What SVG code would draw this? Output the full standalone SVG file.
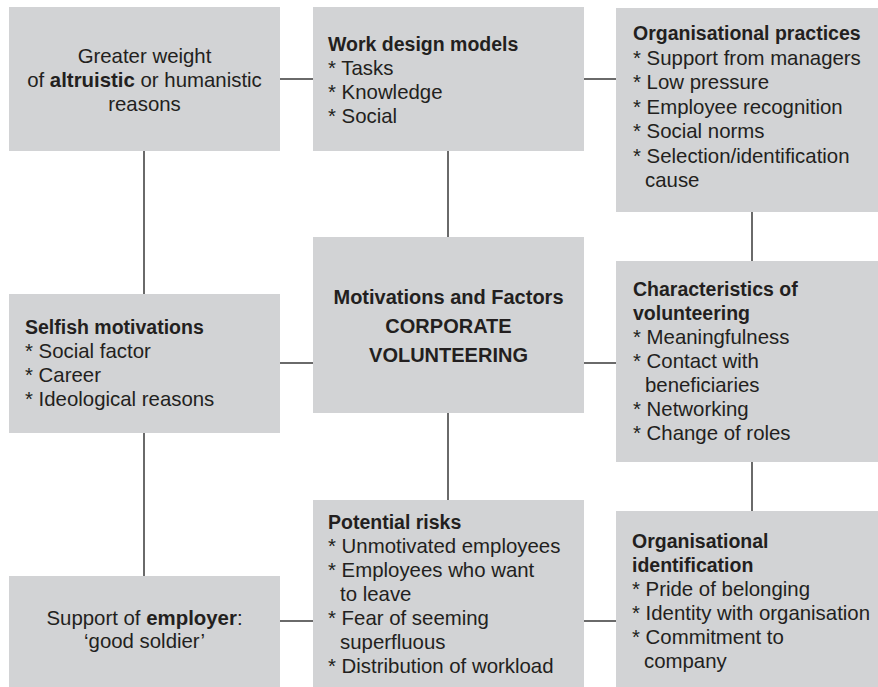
<svg xmlns="http://www.w3.org/2000/svg" width="878" height="687" viewBox="0 0 878 687">
  <style>
    .box { fill: #d2d3d5; }
    text { font-family: "Liberation Sans", Arial, Helvetica, sans-serif; font-size: 20.4px; fill: #231f20; }
    .h { font-weight: bold; font-size: 19.5px; }
    .hc { font-weight: bold; font-size: 20px; text-anchor: middle; }
    .c { text-anchor: middle; }
    .link { stroke: #3a3a3a; stroke-width: 1.5; fill: none; }
  </style>
  <rect width="878" height="687" fill="#ffffff"/>

  <!-- connectors -->
  <g id="connectors">
    <path class="link" d="M280 79H313M584 79H616"/>
    <path class="link" d="M280 363H313M584 363H616"/>
    <path class="link" d="M280 621H313M584 621H616"/>
    <path class="link" d="M144 151V294M144 433V576"/>
    <path class="link" d="M448 151V237M448 413V500"/>
    <path class="link" d="M752 212V261M752 462V511"/>
  </g>

  <g id="altruistic">
    <rect class="box" x="9" y="7" width="271" height="144"/>
    <text class="c" x="144.5" y="63">Greater weight</text>
    <text class="c" x="144.5" y="87">of <tspan font-weight="bold">altruistic</tspan> or humanistic</text>
    <text class="c" x="144.5" y="111">reasons</text>
  </g>

  <g id="work-design">
    <rect class="box" x="313" y="7" width="271" height="144"/>
    <text class="h" x="328" y="51">Work design models</text>
    <text x="328" y="75">* Tasks</text>
    <text x="328" y="99">* Knowledge</text>
    <text x="328" y="123">* Social</text>
  </g>

  <g id="org-practices">
    <rect class="box" x="616" y="8" width="262" height="204"/>
    <text class="h" x="633" y="40">Organisational practices</text>
    <text x="633" y="64.5">* Support from managers</text>
    <text x="633" y="89">* Low pressure</text>
    <text x="633" y="113.5">* Employee recognition</text>
    <text x="633" y="138">* Social norms</text>
    <text x="633" y="162.5">* Selection/identification</text>
    <text x="645" y="187">cause</text>
  </g>

  <g id="selfish">
    <rect class="box" x="9" y="294" width="271" height="139"/>
    <text class="h" x="25" y="334">Selfish motivations</text>
    <text x="25" y="358">* Social factor</text>
    <text x="25" y="382">* Career</text>
    <text x="25" y="406">* Ideological reasons</text>
  </g>

  <g id="core">
    <rect class="box" x="313" y="237" width="271" height="176"/>
    <text class="hc" x="448.5" y="304">Motivations and Factors</text>
    <text class="hc" x="448.5" y="333">CORPORATE</text>
    <text class="hc" x="448.5" y="362">VOLUNTEERING</text>
  </g>

  <g id="characteristics">
    <rect class="box" x="616" y="261" width="262" height="201"/>
    <text class="h" x="633" y="296">Characteristics of</text>
    <text class="h" x="633" y="320">volunteering</text>
    <text x="633" y="344">* Meaningfulness</text>
    <text x="633" y="368">* Contact with</text>
    <text x="645" y="392">beneficiaries</text>
    <text x="633" y="416">* Networking</text>
    <text x="633" y="440">* Change of roles</text>
  </g>

  <g id="good-soldier">
    <rect class="box" x="9" y="576" width="271" height="111"/>
    <text class="c" x="144.5" y="625">Support of <tspan font-weight="bold">employer</tspan>:</text>
    <text class="c" x="144.5" y="648">‘good soldier’</text>
  </g>

  <g id="risks">
    <rect class="box" x="313" y="500" width="271" height="187"/>
    <text class="h" x="328" y="529">Potential risks</text>
    <text x="328" y="553">* Unmotivated employees</text>
    <text x="328" y="577">* Employees who want</text>
    <text x="340" y="601">to leave</text>
    <text x="328" y="625">* Fear of seeming</text>
    <text x="340" y="649">superfluous</text>
    <text x="328" y="673">* Distribution of workload</text>
  </g>

  <g id="identification">
    <rect class="box" x="616" y="511" width="262" height="176"/>
    <text class="h" x="632" y="548">Organisational</text>
    <text class="h" x="632" y="572">identification</text>
    <text x="632" y="596">* Pride of belonging</text>
    <text x="632" y="620">* Identity with organisation</text>
    <text x="632" y="644">* Commitment to</text>
    <text x="644" y="668">company</text>
  </g>
</svg>
